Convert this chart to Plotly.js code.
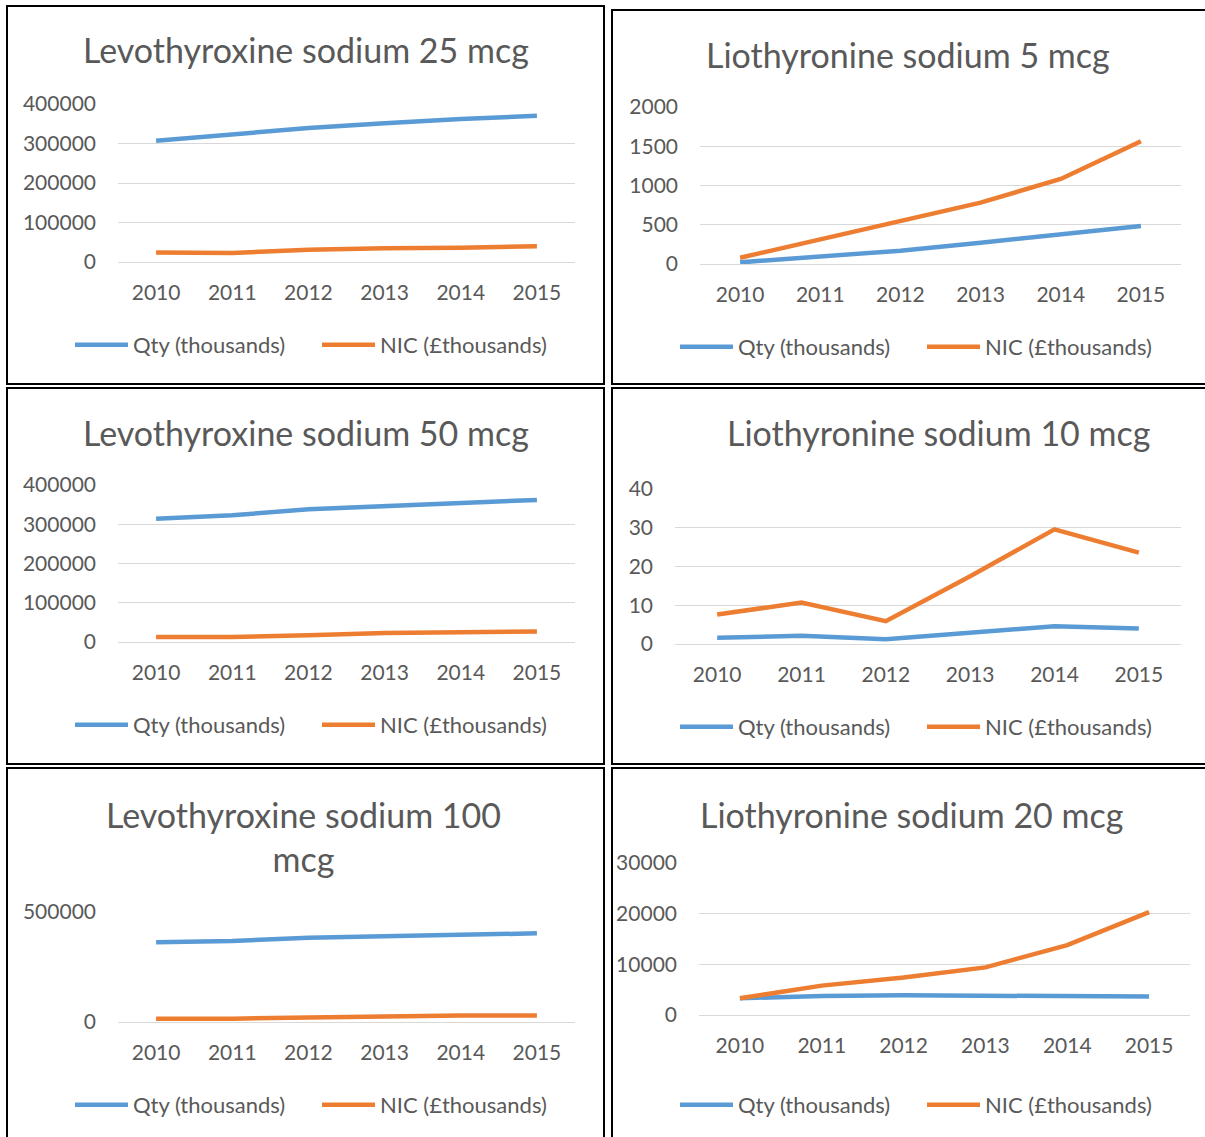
<!DOCTYPE html>
<html>
<head>
<meta charset="utf-8">
<script src="https://cdn.plot.ly/plotly-3.0.1.min.js"></script>
<style>
html,body{margin:0;padding:0;background:#fff;}
#chart{width:1205px;height:1137px;}
</style>
</head>
<body>
<div id="chart"></div>
<script>
// ---- Data ----
const years = ['2010', '2011', '2012', '2013', '2014', '2015'];
const seriesNames = ['Qty (thousands)', 'NIC (£thousands)'];
const panelTitles = [
  'Levothyroxine sodium 25 mcg',
  'Liothyronine sodium 5 mcg',
  'Levothyroxine sodium 50 mcg',
  'Liothyronine sodium 10 mcg',
  'Levothyroxine sodium 100<br>mcg',
  'Liothyronine sodium 20 mcg'
];
const levo25Qty  = [307000, 322000, 339000, 351000, 362000, 370000];
const levo25Nic  = [24000, 23000, 31000, 35000, 36000, 40000];
const lio5Qty    = [21, 89, 170, 271, 378, 484];
const lio5Nic    = [80, 315, 560, 781, 1083, 1563];
const levo50Qty  = [314000, 323000, 338000, 346000, 355000, 362000];
const levo50Nic  = [13000, 13000, 17000, 23000, 25000, 27000];
const lio10Qty   = [1.6, 2.1, 1.2, 3.0, 4.6, 4.0];
const lio10Nic   = [7.6, 10.7, 5.9, 17.5, 29.6, 23.6];
const levo100Qty = [363000, 368000, 383000, 390000, 398000, 403000];
const levo100Nic = [15000, 15000, 21000, 27000, 29000, 30000];
const lio20Qty   = [3300, 3760, 3900, 3800, 3800, 3630];
const lio20Nic   = [3300, 5800, 7400, 9400, 13800, 20300];
const yMax  = [400000, 2000, 400000, 40, 500000, 30000];
const yStep = [100000, 500, 100000, 10, 500000, 10000];

const panelData = [
  [levo25Qty, levo25Nic],
  [lio5Qty, lio5Nic],
  [levo50Qty, levo50Nic],
  [lio10Qty, lio10Nic],
  [levo100Qty, levo100Nic],
  [lio20Qty, lio20Nic]
];

// ---- Layout geometry (pixels) ----
const W = 1205, H = 1137;
const px = p => p / W;
const py = p => 1 - p / H;
const colors = ['#5B9BD5', '#ED7D31'];
const textColor = '#595959';
const FONT = 'Lato, "Open Sans", sans-serif';

// plot area: x0,x1, yTop, yBottom ; title center x,y ; legend row y ; legend item x
const geo = [
  {x0:118, x1:575, yt:104, yb:262, tx:306, ty:50,  ly:345, lx:[70, 317]},
  {x0:700, x1:1181,yt:107, yb:264, tx:908, ty:54,  ly:347, lx:[675, 922]},
  {x0:118, x1:575, yt:485, yb:642, tx:306, ty:432, ly:725, lx:[70, 317]},
  {x0:675, x1:1181,yt:489, yb:644, tx:938, ty:433, ly:727, lx:[675, 922]},
  {x0:118, x1:575, yt:912, yb:1022,tx:303, ty:836, ly:1105,lx:[70, 317]},
  {x0:699, x1:1190,yt:863, yb:1015,tx:911, ty:814, ly:1105,lx:[675, 922]}
];

const traces = [];
const layout = {
  width: W, height: H,
  margin: {l:0, r:0, t:0, b:0},
  paper_bgcolor: '#ffffff',
  plot_bgcolor: 'rgba(0,0,0,0)',
  font: {family: FONT, color: textColor},
  showlegend: true,
  annotations: [],
  shapes: []
};

panelData.forEach((pair, i) => {
  const n = i + 1;
  const g = geo[i];
  const sfx = (n === 1 ? '' : String(n));
  layout['xaxis' + sfx] = {
    domain: [px(g.x0), px(g.x1)],
    anchor: 'y' + sfx,
    type: 'category',
    range: [-0.5, 5.5],
    showgrid: false, zeroline: false, showline: false,
    ticks: '',
    tickfont: {size: 21, color: textColor, family: FONT},
    ticklabelstandoff: 16,
    fixedrange: true
  };
  layout['yaxis' + sfx] = {
    domain: [py(g.yb), py(g.yt)],
    anchor: 'x' + sfx,
    range: [0, yMax[i]],
    tick0: 0, dtick: yStep[i],
    tickformat: 'd',
    showgrid: true, gridcolor: '#D9D9D9', gridwidth: 1,
    zeroline: true, zerolinecolor: '#D9D9D9', zerolinewidth: 1,
    showline: false, ticks: '',
    tickfont: {size: 21, color: textColor, family: FONT},
    ticklabelstandoff: 21,
    fixedrange: true
  };
  pair.forEach((vals, j) => {
    const k = i * 2 + j + 1;
    const lg = 'legend' + (k === 1 ? '' : k);
    traces.push({
      type: 'scatter', mode: 'lines',
      x: years, y: vals,
      name: seriesNames[j],
      xaxis: 'x' + sfx,
      yaxis: 'y' + sfx,
      line: {color: colors[j], width: 4.5, shape: 'linear'},
      legend: lg,
      showlegend: true,
      hoverinfo: 'skip'
    });
    layout[lg] = {
      visible: true,
      x: px(g.lx[j]), y: py(g.ly),
      xanchor: 'left', yanchor: 'middle',
      orientation: 'h',
      bgcolor: 'rgba(0,0,0,0)',
      borderwidth: 0,
      itemwidth: 53,
      font: {size: 22, color: textColor, family: FONT},
      itemclick: false, itemdoubleclick: false
    };
  });
  layout.annotations.push({
    xref: 'paper', yref: 'paper',
    x: px(g.tx), y: py(g.ty),
    xanchor: 'center', yanchor: 'middle',
    text: panelTitles[i], showarrow: false,
    font: {size: 34, color: textColor, family: FONT}
  });
});

// panel frames
const frames = [
  [7, 6, 604, 384], [612, 10, 1212, 384],
  [7, 388, 604, 764], [612, 388, 1212, 764],
  [7, 768, 604, 1145], [612, 768, 1212, 1145]
];
frames.forEach(f => {
  layout.shapes.push({
    type: 'rect', xref: 'paper', yref: 'paper',
    x0: px(f[0]), y0: py(f[1]), x1: px(f[2]), y1: py(f[3]),
    line: {color: '#000000', width: 2}, fillcolor: 'rgba(0,0,0,0)', layer: 'above'
  });
});

Plotly.newPlot('chart', traces, layout, {displayModeBar: false, staticPlot: true});
</script>
</body>
</html>
